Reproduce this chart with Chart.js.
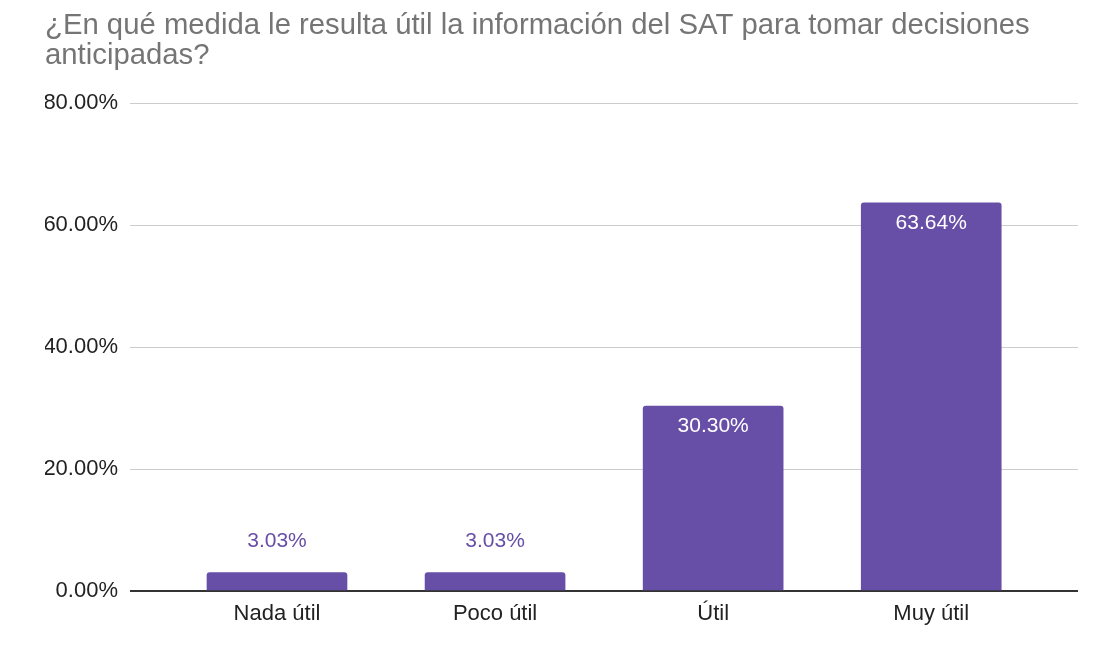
<!DOCTYPE html>
<html lang="es">
<head>
<meta charset="utf-8">
<title>Utilidad de la información del SAT</title>
<script src="https://cdn.jsdelivr.net/npm/chart.js@4.4.1/dist/chart.umd.min.js"></script>
<style>
    html, body { margin: 0; padding: 0; background: #ffffff; }
    #chart { display: block; }
</style>
</head>
<body>
<canvas id="chart" width="1100" height="659"></canvas>
<script>
// ============================
// DATA
// ============================
const titleLines = [
    "¿En qué medida le resulta útil la información del SAT para tomar decisiones",
    "anticipadas?"
];
const categories = ["Nada útil", "Poco útil", "Útil", "Muy útil"];
const percentages = [3.03, 3.03, 30.30, 63.64];
const yTicks = [0, 20, 40, 60, 80];

const BAR_COLOR = "#674ea7";
const FONT = "Arial, 'Liberation Sans', sans-serif";

// ============================
// VALUE LABELS (inside tall bars, above short ones)
// ============================
const valueLabels = {
    id: "valueLabels",
    afterDatasetsDraw(chart) {
        const ctx = chart.ctx;
        const meta = chart.getDatasetMeta(0);
        ctx.save();
        ctx.font = "21px " + FONT;
        ctx.textAlign = "center";
        ctx.textBaseline = "middle";
        meta.data.forEach((bar, i) => {
            const text = percentages[i].toFixed(2) + "%";
            const h = bar.base - bar.y;
            if (h > 50) {
                ctx.fillStyle = "#ffffff";
                ctx.fillText(text, bar.x, bar.y + 20);
            } else {
                ctx.fillStyle = BAR_COLOR;
                ctx.fillText(text, bar.x, bar.y - 31);
            }
        });
        ctx.restore();
    }
};

// ============================
// CHART
// ============================
new Chart(document.getElementById("chart"), {
    type: "bar",
    data: {
        datasets: [{
            data: percentages.map((v, i) => ({ x: i, y: v })),
            backgroundColor: BAR_COLOR,
            barThickness: 140,
            borderRadius: { topLeft: 3, topRight: 3 },
            borderSkipped: "bottom"
        }]
    },
    options: {
        responsive: false,
        animation: false,
        layout: { padding: { left: 45, right: 22, top: 0, bottom: 0 } },
        plugins: {
            legend: { display: false },
            tooltip: { enabled: false },
            title: {
                display: true,
                text: titleLines,
                align: "start",
                color: "#757575",
                font: { family: FONT, size: 29.3, weight: "normal", lineHeight: 30 / 29.3 },
                padding: { top: 11, bottom: 32 }
            }
        },
        scales: {
            x: {
                type: "linear",
                offset: false,
                min: -0.674,
                max: 3.673,
                afterBuildTicks: scale => {
                    scale.ticks = categories.map((_, i) => ({ value: i }));
                },
                afterFit: scale => { scale.height = 68; },
                ticks: {
                    autoSkip: false,
                    maxRotation: 0,
                    padding: 2,
                    color: "#222222",
                    font: { family: FONT, size: 22 },
                    callback: v => categories[v]
                },
                grid: { display: false },
                border: { display: false }
            },
            y: {
                min: 0,
                max: 80,
                afterBuildTicks: scale => {
                    scale.ticks = yTicks.map(v => ({ value: v }));
                },
                afterFit: scale => { scale.width = 85; },
                ticks: {
                    padding: 12,
                    color: "#222222",
                    font: { family: FONT, size: 22 },
                    callback: v => v.toFixed(2) + "%"
                },
                grid: {
                    drawTicks: false,
                    color: c => (c.tick && c.tick.value === 0 ? "#333333" : "#cccccc"),
                    lineWidth: c => (c.tick && c.tick.value === 0 ? 2 : 1)
                },
                border: { display: false }
            }
        }
    },
    plugins: [valueLabels]
});
</script>
</body>
</html>
